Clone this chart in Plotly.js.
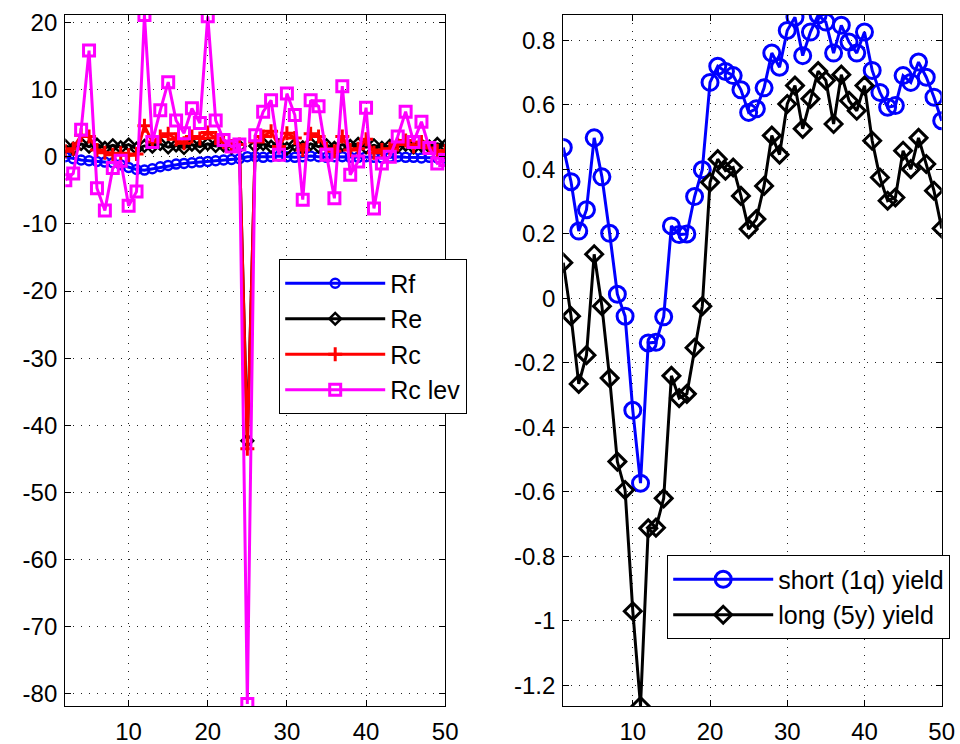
<!DOCTYPE html>
<html>
<head>
<meta charset="utf-8">
<script src="https://cdn.plot.ly/plotly-3.0.1.min.js"></script>
<style>html,body{margin:0;padding:0;background:#fff;}#plot{width:960px;height:744px;}</style>
</head>
<body>
<div id="plot"></div>
<script>
// ---- left panel data (x = 2..50) ----
const xLeft = [];
for (let i = 2; i <= 50; i++) xLeft.push(i);
const Rf = [0.0,-0.3,-0.5,-0.6,-0.7,-0.8,-0.9,-1.2,-1.6,-1.9,-2.0,-1.8,-1.5,-1.3,-1.1,-1.0,-0.9,-0.8,-0.7,-0.6,-0.5,-0.4,-0.3,
  0.0,
  0.0,-0.1,0.0,0.1,0.0,-0.1,0.0,0.1,0.0,-0.1,0.0,0.0,-0.1,-0.1,0.0,-0.1,-0.2,-0.1,0.0,-0.1,-0.1,-0.2,-0.1,-0.2,-0.2];
const Re = [1.6,1.2,1.9,1.5,1.8,1.3,1.7,1.4,1.8,1.2,1.6,1.5,1.9,1.4,1.7,1.3,1.8,1.5,1.9,1.6,1.7,1.4,1.5,
  -42.3,
  1.6,1.9,1.5,1.7,1.2,1.8,1.4,1.9,1.5,1.7,1.3,1.8,1.6,1.9,1.4,1.7,1.3,1.6,1.5,1.8,1.4,1.7,1.5,1.9,1.6];
const Rc = [0.8,1.2,3.2,3.0,1.0,0.6,0.3,0.5,0.2,0.4,4.6,2.2,3.0,3.4,2.6,2.0,3.0,2.7,3.6,2.8,2.2,1.6,1.8,
  -43.5,
  2.2,3.0,3.8,1.5,3.5,2.8,1.0,3.4,3.0,1.2,0.8,3.0,1.0,1.2,2.6,0.6,1.0,1.2,1.8,2.4,1.5,2.2,1.3,0.9,0.8];
const RcLev = [-3.5,-2.5,4.0,15.8,-4.7,-8.0,-1.7,-0.6,-7.3,-5.2,21.1,2.2,6.9,11.1,5.4,3.5,7.2,5.0,20.9,5.4,2.5,1.5,1.8,
  -81.5,
  3.2,6.7,8.4,0.3,9.4,6.2,-6.4,8.4,7.5,0.3,-6.2,10.5,-2.7,-0.7,7.3,-7.7,-1.0,0.0,3.0,6.7,2.2,5.2,1.3,-1.0,-0.5];

// ---- right panel data (x = 1..50) ----
const xRight = [];
for (let i = 1; i <= 50; i++) xRight.push(i);
const shortYield = [0.468,0.362,0.209,0.275,0.498,0.377,0.202,0.013,-0.055,-0.347,
  -0.573,-0.138,-0.136,-0.057,0.225,0.198,0.200,0.316,0.399,0.670,
  0.720,0.704,0.691,0.647,0.577,0.588,0.653,0.761,0.717,0.831,
  0.872,0.753,0.826,0.879,0.857,0.761,0.847,0.795,0.761,0.826,
  0.707,0.639,0.593,0.598,0.691,0.670,0.733,0.686,0.624,0.551];
const longYield = [0.111,-0.055,-0.265,-0.176,0.137,-0.024,-0.247,-0.506,-0.594,-0.970,
  -1.264,-0.713,-0.711,-0.620,-0.240,-0.309,-0.296,-0.153,-0.024,0.360,
  0.432,0.396,0.406,0.318,0.215,0.246,0.349,0.505,0.446,0.603,
  0.660,0.526,0.619,0.705,0.676,0.541,0.694,0.613,0.582,0.660,
  0.489,0.375,0.303,0.313,0.458,0.401,0.498,0.417,0.334,0.217];

// ---- tick labels ----
const xTickVals = [10,20,30,40,50];
const xTickText = ['10','20','30','40','50'];
const yLeftTickVals = [-80,-70,-60,-50,-40,-30,-20,-10,0,10,20];
const yLeftTickText = ['-80','-70','-60','-50','-40','-30','-20','-10','0','10','20'];
const yRightTickVals = [-1.2,-1,-0.8,-0.6,-0.4,-0.2,0,0.2,0.4,0.6,0.8];
const yRightTickText = ['-1.2','-1','-0.8','-0.6','-0.4','-0.2','0','0.2','0.4','0.6','0.8'];

const FONT = 'Liberation Sans, Arial, sans-serif';

const traces = [
  {x:xLeft, y:Rf, name:'Rf', mode:'lines+markers', xaxis:'x', yaxis:'y', legend:'legend',
   line:{color:'#0000ff', width:3}, marker:{symbol:'circle-open', size:9, color:'#0000ff', line:{width:2.5}}},
  {x:xLeft, y:Re, name:'Re', mode:'lines+markers', xaxis:'x', yaxis:'y', legend:'legend',
   line:{color:'#000000', width:3}, marker:{symbol:'diamond-open', size:9, color:'#000000', line:{width:2.5}}},
  {x:xLeft, y:Rc, name:'Rc', mode:'lines+markers', xaxis:'x', yaxis:'y', legend:'legend',
   line:{color:'#ff0000', width:3}, marker:{symbol:'cross-thin-open', size:10, color:'#ff0000', line:{width:3}}},
  {x:xLeft, y:RcLev, name:'Rc lev', mode:'lines+markers', xaxis:'x', yaxis:'y', legend:'legend',
   line:{color:'#ff00ff', width:3}, marker:{symbol:'square-open', size:11, color:'#ff00ff', line:{width:3}}},
  {x:xRight, y:shortYield, name:'short (1q) yield', mode:'lines+markers', xaxis:'x2', yaxis:'y2', legend:'legend2',
   line:{color:'#0000ff', width:3}, marker:{symbol:'circle-open', size:16, color:'#0000ff', line:{width:3}}},
  {x:xRight, y:longYield, name:'long (5y) yield', mode:'lines+markers', xaxis:'x2', yaxis:'y2', legend:'legend2',
   line:{color:'#000000', width:3}, marker:{symbol:'diamond-open', size:13, color:'#000000', line:{width:3}}}
];

const axCommon = {
  showline:true, linecolor:'#000', linewidth:1.2, mirror:'ticks',
  ticks:'inside', ticklen:6, tickwidth:1, tickcolor:'#000',
  showgrid:true, gridcolor:'#222', gridwidth:1, griddash:'1px,7px',
  zeroline:false, tickfont:{family:FONT, size:24, color:'#000'},
  tickmode:'array', fixedrange:true
};

const layout = {
  width:960, height:744,
  paper_bgcolor:'#fff', plot_bgcolor:'#fff',
  margin:{l:0, r:0, t:15, b:38},
  showlegend:true,
  font:{family:FONT, color:'#000'},
  xaxis: Object.assign({}, axCommon, {domain:[65.3/960, 445.2/960], range:[2,50], tickvals:xTickVals, ticktext:xTickText, anchor:'y', ticklabelstandoff:4}),
  yaxis: Object.assign({}, axCommon, {range:[-81.8,21.1], tickvals:yLeftTickVals, ticktext:yLeftTickText, anchor:'x', ticklabelstandoff:2}),
  xaxis2: Object.assign({}, axCommon, {domain:[563.3/960, 941.7/960], range:[1,50], tickvals:xTickVals, ticktext:xTickText, anchor:'y2', ticklabelstandoff:4}),
  yaxis2: Object.assign({}, axCommon, {range:[-1.264,0.879], tickvals:yRightTickVals, ticktext:yRightTickText, anchor:'x2', ticklabelstandoff:2}),
  legend: {x:279/960, y:(705.7-259)/691, xanchor:'left', yanchor:'top', bgcolor:'#fff', bordercolor:'#000', borderwidth:1.2,
           font:{family:FONT, size:25, color:'#000'}, itemwidth:100, tracegroupgap:0},
  legend2: {x:667/960, y:(705.7-555)/691, xanchor:'left', yanchor:'top', bgcolor:'#fff', bordercolor:'#000', borderwidth:1.2,
           font:{family:FONT, size:25, color:'#000'}, itemwidth:100, tracegroupgap:0}
};

Plotly.newPlot('plot', traces, layout, {displayModeBar:false, staticPlot:true});
</script>
</body>
</html>
